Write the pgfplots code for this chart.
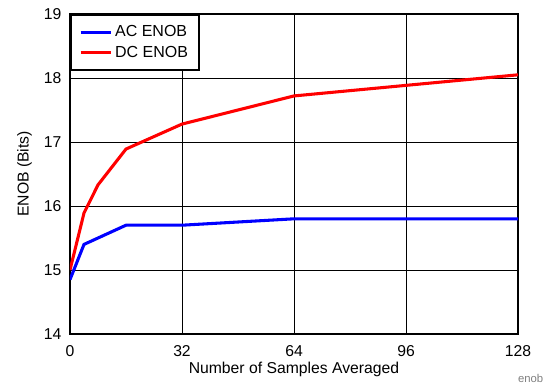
\documentclass[border=0pt]{standalone}
\usepackage{pgfplots}
\pgfplotsset{compat=1.18}
\usepackage{fontspec}
\setmainfont{Liberation Sans}
\begin{document}
\begin{tikzpicture}
\useasboundingbox (-52.5pt,-39.75pt) rectangle (358.5pt,250.5pt);
\begin{axis}[
  at={(0,0)}, anchor=south west,
  scale only axis, width=336pt, height=240pt,
  xmin=0, xmax=128, ymin=14, ymax=19,
  xtick={0,32,64,96,128}, ytick={14,15,16,17,18,19},
  grid=major,
  major grid style={black, line width=0.6pt},
  axis line style={line width=1.6pt},
  major tick length=0pt,
  /pgf/number format/assume math mode=true,
  tick label style={font=\fontsize{11.8}{14}\selectfont},
  label style={font=\fontsize{11.8}{14}\selectfont},
  xticklabel style={yshift=-5pt},
  yticklabel style={xshift=-3pt},
  xlabel={Number of Samples Averaged},
  ylabel={ENOB (Bits)},
  xlabel style={yshift=3pt},
  ylabel style={yshift=2pt},
  legend style={at={(0,1)}, anchor=north west, draw=black, line width=1.6pt,
    font=\fontsize{12}{14}\selectfont, inner xsep=6pt, inner ysep=6pt,
    row sep=1.5pt},
  legend cell align=left,
  legend image code/.code={\draw[#1] (0cm,0cm) -- (0.8cm,0cm);},
]
\addplot[blue, line width=2.3pt] coordinates {(0,14.85) (4,15.40) (16,15.70) (32,15.70) (64,15.80) (128,15.80)};
\addlegendentry{AC ENOB}
\addplot[red, line width=2.3pt] coordinates {(0,15.0) (4,15.89) (8,16.33) (16,16.89) (32,17.28) (64,17.72) (128,18.05)};
\addlegendentry{DC ENOB}
\end{axis}
\node[anchor=south east, text=gray, font=\fontsize{8.5}{10}\selectfont] at (358.5pt,-39.75pt) {enob};
\end{tikzpicture}
\end{document}
